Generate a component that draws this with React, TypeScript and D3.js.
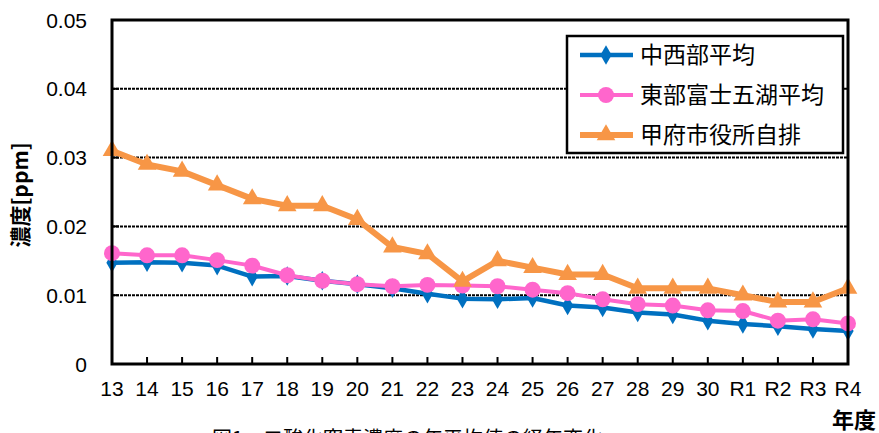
import * as d3 from 'd3';

// 年度ラベル
const years = ['13', '14', '15', '16', '17', '18', '19', '20', '21', '22', '23', '24', '25', '26', '27', '28', '29', '30', 'R1', 'R2', 'R3', 'R4'];

// 年平均値 [ppm]
const chuseibu = [0.0147, 0.0148, 0.0147, 0.0143, 0.0127, 0.0128, 0.0121, 0.0116, 0.011, 0.0102, 0.0095, 0.0094, 0.0096, 0.0085, 0.0082, 0.0075, 0.0072, 0.0063, 0.0058, 0.0055, 0.0051, 0.0048];
const tobuFuji = [0.0161, 0.0158, 0.0158, 0.0151, 0.0143, 0.0129, 0.0121, 0.0116, 0.0113, 0.0115, 0.0114, 0.0113, 0.0108, 0.0103, 0.0094, 0.0087, 0.0085, 0.0078, 0.0077, 0.0063, 0.0065, 0.0059];
const kofuJihai = [0.031, 0.029, 0.028, 0.026, 0.024, 0.023, 0.023, 0.021, 0.017, 0.016, 0.012, 0.015, 0.014, 0.013, 0.013, 0.011, 0.011, 0.011, 0.01, 0.009, 0.009, 0.011];

const yTicks = [0, 0.01, 0.02, 0.03, 0.04, 0.05];
const yTickLabels = ['0', '0.01', '0.02', '0.03', '0.04', '0.05'];

const seriesNames = ['中西部平均', '東部富士五湖平均', '甲府市役所自排'];

const W = 879;
const H = 433;
const left = 112;
const right = 848;
const top = 20;
const bottom = 364;

const jp = '"Noto Sans CJK JP", sans-serif';
const num = '"Liberation Sans", Arial, sans-serif';

export default function App() {
  const x = d3.scalePoint<string>().domain(years).range([left, right]).padding(0);
  const y = d3.scaleLinear().domain([0, 0.05]).range([bottom, top]);

  const line = d3.line<number>()
    .x((_, i) => x(years[i]) as number)
    .y(d => y(d));

  const series = [
    { name: seriesNames[0], data: chuseibu, color: '#0070C0', width: 4.5, symbol: d3.symbolDiamond, size: 110 },
    { name: seriesNames[1], data: tobuFuji, color: '#FF66CC', width: 4, symbol: d3.symbolCircle, size: 200 },
    { name: seriesNames[2], data: kofuJihai, color: '#F79646', width: 6, symbol: d3.symbolTriangle, size: 150 },
  ];

  const sym = (s: typeof series[number]) => d3.symbol().type(s.symbol).size(s.size)() as string;

  return (
    <svg width={W} height={H} style={{ position: 'absolute', left: 0, top: 0, background: '#fff' }}>
      {/* grid lines */}
      {yTicks.slice(1, 5).map(t => (
        <line key={t} x1={left} x2={right} y1={y(t)} y2={y(t)} stroke="#000" strokeWidth={2} strokeDasharray="3,1" />
      ))}

      {/* x ticks */}
      {years.slice(1, -1).map(c => (
        <line key={c} x1={x(c)} x2={x(c)} y1={bottom} y2={bottom - 7} stroke="#000" strokeWidth={2} />
      ))}
      {/* y ticks */}
      {yTicks.slice(1, 5).map(t => (
        <line key={t} x1={left} x2={left + 7} y1={y(t)} y2={y(t)} stroke="#000" strokeWidth={2} />
      ))}

      {/* series */}
      {series.map(s => (
        <g key={s.name}>
          <path d={line(s.data) ?? ''} fill="none" stroke={s.color} strokeWidth={s.width} strokeLinejoin="round" />
          {s.data.map((v, i) => (
            <path key={i} d={sym(s)} fill={s.color} transform={`translate(${x(years[i])},${y(v)})`} />
          ))}
        </g>
      ))}

      {/* plot border */}
      <rect x={left} y={top} width={right - left} height={bottom - top} fill="none" stroke="#000" strokeWidth={3} />

      {/* y labels */}
      {yTicks.map((t, i) => (
        <text key={t} x={87} y={y(t)} dy="0.36em" textAnchor="end" fontFamily={num} fontSize={21}>{yTickLabels[i]}</text>
      ))}
      {/* x labels */}
      {years.map(c => (
        <text key={c} x={x(c)} y={396} textAnchor="middle" fontFamily={num} fontSize={21}>{c}</text>
      ))}

      <text transform="translate(28,195) rotate(-90)" textAnchor="middle" fontFamily={jp} fontSize={21} fontWeight="bold">濃度[ppm]</text>
      <text x={876} y={428} textAnchor="end" fontFamily={jp} fontSize={22} fontWeight="bold">年度</text>

      {/* legend */}
      <g>
        <rect x={567} y={36} width={276} height={117} fill="#fff" stroke="#000" strokeWidth={2.5} />
        {series.map((s, i) => {
          const cy = 55 + i * 40;
          return (
            <g key={s.name}>
              <line x1={580} x2={633} y1={cy} y2={cy} stroke={s.color} strokeWidth={s.width} />
              <path d={sym(s)} fill={s.color} transform={`translate(606,${cy})`} />
              <text x={640} y={cy} dy="0.36em" fontFamily={jp} fontSize={23}>{s.name}</text>
            </g>
          );
        })}
      </g>

      {/* キャプション(元図でも下端で切れている) */}
      <text x={212} y={446} fontFamily={jp} fontSize={20}>図1　二酸化窒素濃度の年平均値の経年変化</text>
    </svg>
  );
}
